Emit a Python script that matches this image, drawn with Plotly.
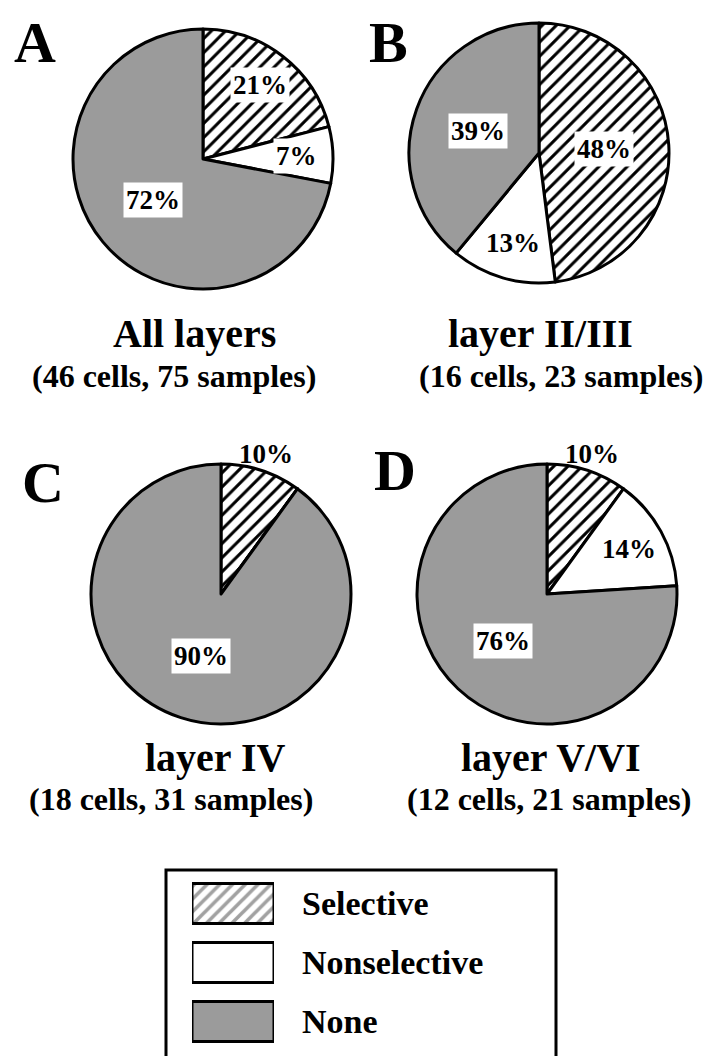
import math
import plotly.graph_objects as go

# ---------------- data ----------------
categories = ["Selective", "Nonselective", "None"]
vals_A = [21, 7, 72]
vals_B = [48, 13, 39]
vals_C = [10, 0, 90]
vals_D = [10, 14, 76]
panel_letters = ["A", "B", "C", "D"]
panel_titles = ["All layers", "layer II/III", "layer IV", "layer V/VI"]
panel_counts = ["(46 cells, 75 samples)", "(16 cells, 23 samples)",
                "(18 cells, 31 samples)", "(12 cells, 21 samples)"]

# ---------------- layout / style ----------------
W, H = 714, 1056
FONT = "Liberation Serif"
GRAY = "#9b9b9b"
slice_colors = ["white", "white", GRAY]
slice_patterns = ["/", "", ""]

panels = [
    dict(vals=vals_A, c=(195, 151), letter=(27, 0, "top"), title=(186, 325), count=(166, 368),
         textpos=["in", "in", "in"]),
    dict(vals=vals_B, c=(531, 145), letter=(380, 0, "top"), title=(532, 325), count=(553, 368),
         textpos=["in", "in", "in"]),
    dict(vals=vals_C, c=(213, 586), letter=(35, 474, "middle"), title=(207, 749), count=(163, 791),
         textpos=["out", "in", "in"]),
    dict(vals=vals_D, c=(539, 586), letter=(387, 462, "middle"), title=(543, 749), count=(541, 791),
         textpos=["out", "in", "in"]),
]
R = 130


def px(x):
    return x / W


def py(y):
    return 1 - y / H


fig = go.Figure()
annotations = []

for i, p in enumerate(panels):
    cx, cy = p["c"]
    fig.add_trace(go.Pie(
        labels=categories, values=p["vals"], sort=False, direction="clockwise",
        rotation=0, textinfo="none", hoverinfo="label+percent", showlegend=False,
        domain=dict(x=[px(cx - R), px(cx + R)], y=[py(cy + R), py(cy - R)]),
        marker=dict(colors=slice_colors,
                    line=dict(color="black", width=3),
                    pattern=dict(shape=slice_patterns, fgcolor="black",
                                 size=10, solidity=0.3)),
    ))
    total = sum(p["vals"])
    acc = 0
    for j, v in enumerate(p["vals"]):
        if v == 0:
            continue
        mid = (acc + v / 2) / total * 2 * math.pi
        acc += v
        frac = v / total
        if p["textpos"][j] == "out":
            k = 1.13
        elif frac >= 0.35:
            k = 0.5
        else:
            k = 0.72
        lx = cx + k * R * math.sin(mid)
        ly = cy - k * R * math.cos(mid)
        annotations.append(dict(
            x=px(lx), y=py(ly), xref="paper", yref="paper", showarrow=False,
            text=f"<b>{v}%</b>", font=dict(family=FONT, size=27, color="black"),
            bgcolor="white" if p["textpos"][j] == "in" else "rgba(0,0,0,0)",
            borderpad=2, xanchor="center", yanchor="middle"))
    # panel letter
    lx, ly, anch = p["letter"]
    annotations.append(dict(
        x=px(lx), y=py(ly), xref="paper", yref="paper",
        showarrow=False, text=f"<b>{panel_letters[i]}</b>",
        font=dict(family=FONT, size=58, color="black"),
        xanchor="center", yanchor=anch))
    annotations.append(dict(
        x=px(p["title"][0]), y=py(p["title"][1]), xref="paper", yref="paper",
        showarrow=False, text=f"<b>{panel_titles[i]}</b>",
        font=dict(family=FONT, size=40, color="black"),
        xanchor="center", yanchor="middle"))
    annotations.append(dict(
        x=px(p["count"][0]), y=py(p["count"][1]), xref="paper", yref="paper",
        showarrow=False, text=f"<b>{panel_counts[i]}</b>",
        font=dict(family=FONT, size=32, color="black"),
        xanchor="center", yanchor="middle"))

# ---------------- legend (bars as swatches) ----------------
fig.add_trace(go.Bar(
    x=[1, 1, 1], y=categories, orientation="h", base=0, showlegend=False,
    hoverinfo="y", xaxis="x", yaxis="y",
    marker=dict(color=slice_colors, line=dict(color="black", width=3),
                pattern=dict(shape=slice_patterns, fgcolor="black",
                             size=9, solidity=0.4)),
))
for cat in categories:
    annotations.append(dict(
        x=px(292), y=cat, xref="paper", yref="y", showarrow=False,
        text=f"<b>{cat}</b>", font=dict(family=FONT, size=34, color="black"),
        xanchor="left", yanchor="middle"))

fig.update_layout(
    width=W, height=H, margin=dict(l=0, r=0, t=0, b=0),
    paper_bgcolor="white", plot_bgcolor="white",
    bargap=0.32,
    xaxis=dict(domain=[px(184), px(266)], range=[0, 1], visible=False, fixedrange=True),
    yaxis=dict(domain=[py(1043), py(866)], autorange="reversed", visible=False,
               fixedrange=True),
    annotations=annotations,
    shapes=[dict(type="rect", xref="paper", yref="paper",
                 x0=px(158), x1=px(548), y0=py(1052), y1=py(862),
                 line=dict(color="black", width=3), fillcolor="rgba(0,0,0,0)")],
)

fig.write_html("out.html")
